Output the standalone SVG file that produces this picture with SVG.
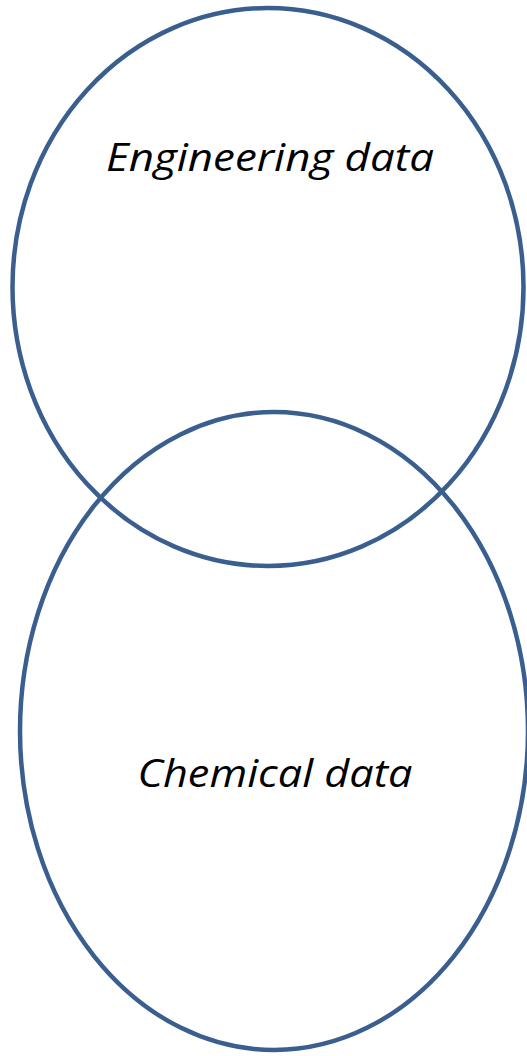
<svg xmlns="http://www.w3.org/2000/svg" width="527" height="1056" viewBox="0 0 527 1056">
<style>
.set{fill:none;stroke:#3A5F8F;stroke-width:4.5}
.lbl{font-family:"Open Sans","Liberation Sans",sans-serif;font-style:italic;font-size:38px;fill:#000;text-anchor:middle}
</style>
<rect width="527" height="1056" fill="#fff"/>
<g id="engineering">
<ellipse class="set" cx="268" cy="287" rx="255.5" ry="279"/>
<text class="lbl" x="270" y="171" textLength="328" lengthAdjust="spacingAndGlyphs">Engineering data</text>
</g>
<g id="chemical">
<ellipse class="set" cx="274" cy="731" rx="254" ry="319"/>
<text class="lbl" x="275" y="787" textLength="275" lengthAdjust="spacingAndGlyphs">Chemical data</text>
</g>
<g id="connectors"></g>
</svg>
